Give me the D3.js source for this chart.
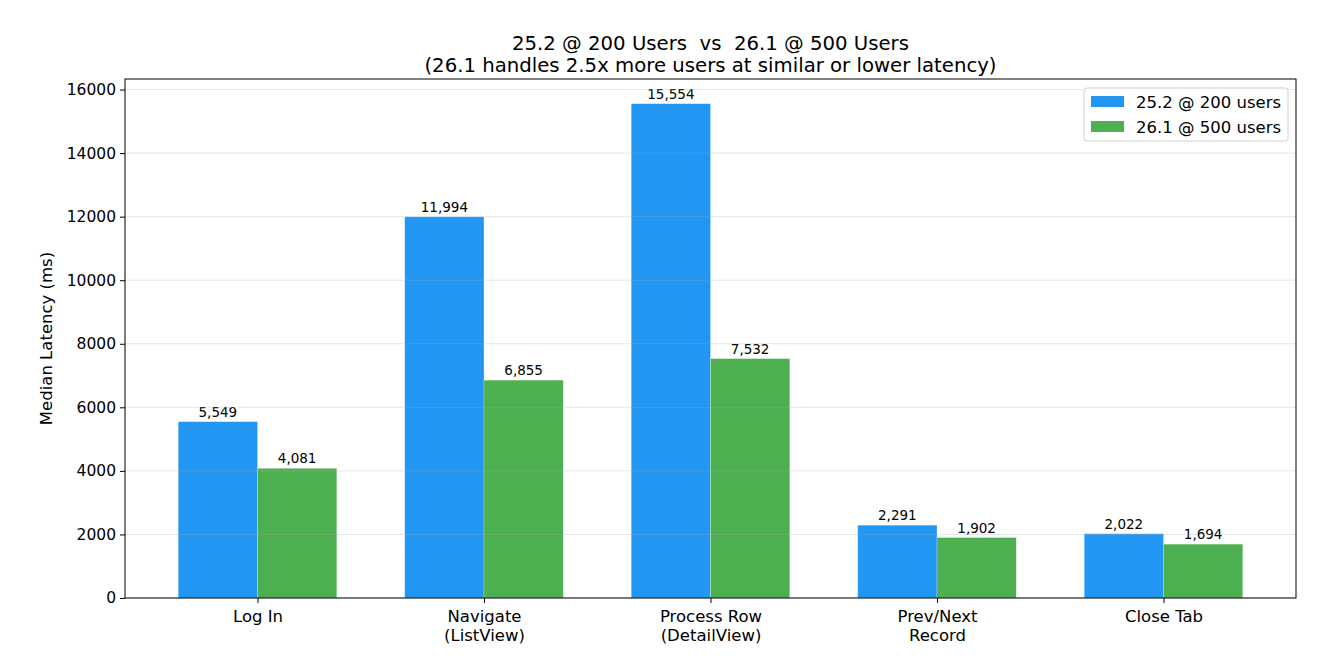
<!DOCTYPE html>
<html>
<head>
  <meta charset="utf-8">
  <title>Median latency 25.2 vs 26.1</title>
  <script src="https://cdn.jsdelivr.net/npm/d3@7"></script>
  <style>
    body { margin: 0; background: #fff; }
    svg { font-family: "DejaVu Sans", sans-serif; }
  </style>
</head>
<body>
<script>
  // categories and series
  const categories = ["Log In", "Navigate\n(ListView)", "Process Row\n(DetailView)", "Prev/Next\nRecord", "Close Tab"];
  const v252 = [5549, 11994, 15554, 2291, 2022];
  const v261 = [4081, 6855, 7532, 1902, 1694];
  const seriesNames = ["25.2 @ 200 users", "26.1 @ 500 users"];
  const colors = ["#2196F3", "#4CAF50"];
  const yTicks = [0, 2000, 4000, 6000, 8000, 10000, 12000, 14000, 16000];

  const W = 1318, H = 662;
  const m = { left: 125, right: 22, top: 79, bottom: 64 };
  const pw = W - m.left - m.right, ph = H - m.top - m.bottom;

  const svg = d3.select("body").append("svg")
    .attr("width", W)
    .attr("height", H);

  const g = svg.append("g").attr("transform", `translate(${m.left},${m.top})`);

  // same limits matplotlib would pick
  const bw = 0.35;
  const x = d3.scaleLinear().domain([-0.585, categories.length - 1 + 0.585]).range([0, pw]);
  const ymax = d3.max(v252.concat(v261)) * 1.05;
  const y = d3.scaleLinear().domain([0, ymax]).range([ph, 0]);

  const series = [v252, v261];
  series.forEach(function (vals, s) {
    const off = s === 0 ? -bw : 0;
    g.selectAll("rect.s" + s)
      .data(vals)
      .enter()
      .append("rect")
      .attr("class", "s" + s)
      .attr("x", (d, i) => x(i + off))
      .attr("width", x(bw) - x(0))
      .attr("y", d => y(d))
      .attr("height", d => ph - y(d))
      .attr("fill", colors[s])
      .attr("stroke", "#fff")
      .attr("stroke-opacity", 0.3)
      .attr("stroke-width", 0.8);

    g.selectAll("text.l" + s)
      .data(vals)
      .enter()
      .append("text")
      .attr("class", "l" + s)
      .attr("x", (d, i) => x(i + off + bw / 2))
      .attr("y", d => y(d) - 5)
      .attr("text-anchor", "middle")
      .attr("font-size", 13.5)
      .attr("fill", "#000")
      .text(d => d3.format(",")(d));
  });

  // grid (drawn above bars, faint)
  g.selectAll("line.grid")
    .data(yTicks)
    .enter()
    .append("line")
    .attr("class", "grid")
    .attr("x1", 0).attr("x2", pw)
    .attr("y1", d => y(d)).attr("y2", d => y(d))
    .attr("stroke", "#b0b0b0")
    .attr("stroke-opacity", 0.3)
    .attr("stroke-width", 1);

  // y axis
  const yAxis = d3.axisLeft(y).tickValues(yTicks).tickSize(5).tickPadding(4).tickFormat(d3.format("d"));
  g.append("g").call(yAxis)
    .call(a => a.select(".domain").remove())
    .call(a => a.selectAll("text").attr("font-size", 15.5).attr("font-family", "DejaVu Sans").attr("fill", "#000"))
    .call(a => a.selectAll("line").attr("stroke", "#000"));

  // x axis
  const xAxis = d3.axisBottom(x).tickValues(d3.range(categories.length)).tickSize(5).tickFormat("");
  const xg = g.append("g").attr("transform", `translate(0,${ph})`).call(xAxis);
  xg.select(".domain").remove();
  xg.selectAll("line").attr("stroke", "#000");
  xg.selectAll(".tick").each(function (d) {
    const t = d3.select(this).append("text")
      .attr("text-anchor", "middle")
      .attr("font-size", 16.5)
      .attr("font-family", "DejaVu Sans")
      .attr("fill", "#000");
    categories[d].split("\n").forEach(function (line, k) {
      t.append("tspan").attr("x", 0).attr("y", 24 + k * 19).text(line);
    });
  });

  // frame
  g.append("rect")
    .attr("width", pw).attr("height", ph)
    .attr("fill", "none").attr("stroke", "#000").attr("stroke-width", 1);

  // y label
  svg.append("text")
    .attr("transform", `translate(52,${m.top + ph / 2}) rotate(-90)`)
    .attr("text-anchor", "middle")
    .attr("font-size", 16.5)
    .text("Median Latency (ms)");

  // title
  const title = svg.append("text")
    .attr("text-anchor", "middle")
    .attr("font-size", 19.7)
    .attr("xml:space", "preserve");
  title.append("tspan").attr("x", m.left + pw / 2).attr("y", 49.5).text("25.2 @ 200 Users  vs  26.1 @ 500 Users");
  title.append("tspan").attr("x", m.left + pw / 2).attr("y", 71.5).text("(26.1 handles 2.5x more users at similar or lower latency)");

  // legend
  const lg = g.append("g").attr("transform", `translate(${pw - 212},9)`);
  lg.append("rect")
    .attr("width", 204).attr("height", 53).attr("rx", 3)
    .attr("fill", "#fff").attr("fill-opacity", 0.8)
    .attr("stroke", "#d0d0d0");
  seriesNames.forEach(function (name, i) {
    lg.append("rect")
      .attr("x", 7).attr("y", 8 + i * 25)
      .attr("width", 33).attr("height", 11)
      .attr("fill", colors[i]);
    lg.append("text")
      .attr("x", 52).attr("y", 19.5 + i * 25)
      .attr("font-size", 16.5)
      .text(name);
  });
</script>
</body>
</html>
